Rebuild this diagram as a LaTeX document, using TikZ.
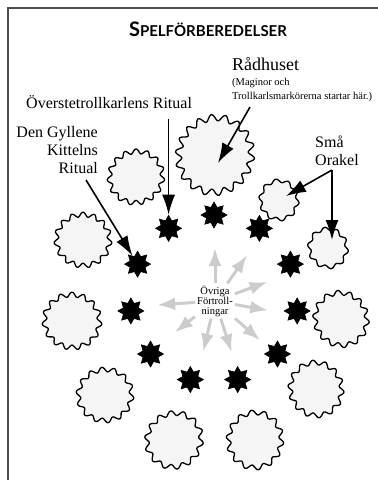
\documentclass[tikz,border=0pt]{standalone}
\usepackage{fontspec}
\setmainfont{Liberation Serif}
\newfontfamily\titlefont{Lato}
\usetikzlibrary{shapes.geometric,arrows.meta,calc}
\definecolor{blobfill}{gray}{0.96}
\definecolor{spellgray}{gray}{0.8}
\definecolor{framegray}{gray}{0.3}
\tikzset{
  blobspot/.style={circle,inner sep=0pt},
  blobline/.style={draw,line width=1.3pt,fill=blobfill,line join=round},
  ritualstar/.style={star,star points=8,star point ratio=1.6,fill=black,draw=black,line width=0.6pt,minimum size=26pt,inner sep=0pt},
  pointer/.style={line width=1.6pt,-{Latex[length=20pt,width=13pt]}},
  spellarrow/.style={spellgray,line width=3pt,-{Latex[length=18pt,width=13pt]}},
  lbl/.style={font=\fontsize{16}{18}\selectfont,inner sep=0pt},
}
\begin{document}
\begin{tikzpicture}[x=1pt,y=-1pt]
  \useasboundingbox (0,0) rectangle (378,480);
  \draw[framegray,line width=1.5pt] (378,8) -- (8,8) -- (8,480);% frame
  \node[anchor=base,inner sep=0pt] (title) at (208,36)
    {\titlefont\bfseries{\fontsize{20}{20}\selectfont S}\fontsize{15}{15}\selectfont PELFÖRBEREDELSER};

  % outer ring of places (wavy outlines)
  \foreach \nm/\x/\y/\r/\p in {raadhus/215/155/41/18, b1/136/177/29/15, b2/83/240/29/15,
      b3/72/321/30/15, b4/105/395/29/14, b5/174/440/30/14, b6/255/440/30/14,
      b7/316/389/29/14, b8/341/319/29/14, orakel1/328/248/21/10, orakel2/279/200/21/10}{
    \node[blobspot,minimum size=2*\r] (\nm) at (\x,\y) {};
    \draw[blobline] plot[variable=\t,domain=0:360,samples=181]
      ({\x+\r*(0.9+0.08*sin(\p*\t)+0.02*sin(2*\t+\x))*cos(\t)},
       {\y+\r*(0.9+0.08*sin(\p*\t)+0.02*sin(2*\t+\x))*sin(\t)}) -- cycle;
  }

  % inner ring of rituals
  \coordinate (ctr) at (214,299);
  \foreach \i in {0,...,10}
    \node[ritualstar] (s\i) at ($(ctr)+({90+\i*360/11}:84pt)$) {};

  \node[font=\fontsize{10.5}{10}\selectfont,align=center,inner sep=2pt] (ovriga) at (215,301)
    {Övriga\\Förtroll-\\ningar};
  \foreach \a/\len [count=\k] in {90/53,55/56,20/56,-10/54,-41/60,-72/54,-103/52,-142/51,-176/58}{
    \coordinate (g\k) at ($(ovriga)+(\a:\len pt)$);
    \draw[spellarrow] (ovriga) -- (g\k);
  }

  % labels (base = last line)
  \node[anchor=base west,inner sep=0pt,font=\fontsize{18}{20}\selectfont] (raadhusText) at (232,70) {Rådhuset};
  \node[anchor=base west,inner sep=0pt,align=left,font=\fontsize{10.5}{14}\selectfont] (raadhusNote) at (232,99)
    {(Maginor och\\Trollkarlsmarkörerna startar här.)};
  \node[lbl,anchor=base west] (oversteText) at (26,108) {Överstetrollkarlens Ritual};
  \node[lbl,anchor=base east,align=right] (kittelText) at (98,173) {Den Gyllene\\Kittelns\\Ritual};
  \node[lbl,anchor=base west,align=left] (orakelText) at (315,165) {Små\\Orakel};

  % pointers
  \coordinate (raadhusTail) at (250,107);
  \draw[pointer] (raadhusTail) -- ($(raadhus.center)+(3,8)$);
  \coordinate (oversteTail) at (s1 |- 0,119);
  \draw[pointer] (oversteTail) -- (s1);
  \coordinate (kittelTail) at (86,180);
  \draw[pointer] (kittelTail) -- (s2);
  \coordinate (orakelFork) at (332,170);
  \draw[pointer,shorten >=8pt] (orakelFork) -- (orakel2.center);
  \draw[pointer,shorten >=8pt] (orakelFork) -- (orakelFork |- orakel1.center);
\end{tikzpicture}
\end{document}
